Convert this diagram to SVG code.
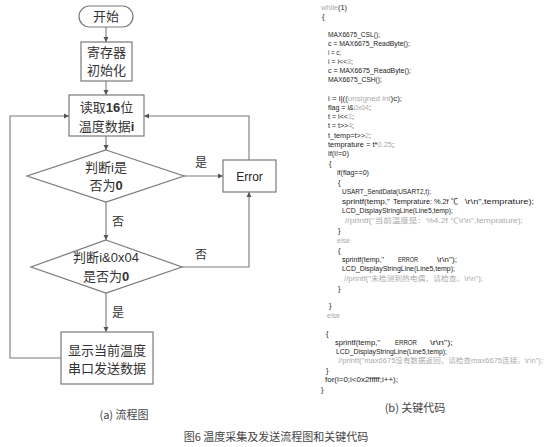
<svg xmlns="http://www.w3.org/2000/svg" width="554" height="447" viewBox="0 0 554 447">
<defs>
<style>
.bx{fill:#fff;stroke:#7a7a7a;stroke-width:1.2}
.ln{fill:none;stroke:#7a7a7a;stroke-width:1.1}
.t{font-family:"Noto Sans CJK SC",sans-serif;font-size:13px;fill:#333;text-anchor:middle}
.en{font-family:"Liberation Sans",sans-serif;font-size:12px;fill:#222;text-anchor:middle}
.lb{font-family:"Noto Sans CJK SC",sans-serif;font-size:12px;fill:#333;text-anchor:middle}
.c{font-family:"Liberation Sans","Noto Sans CJK SC",sans-serif;font-size:7.5px;fill:#222}
.cm{font-family:"Liberation Sans","Noto Sans CJK SC",sans-serif;font-size:6.5px;fill:#aaa}
.g{fill:#aaa}
.cap{font-family:"Noto Sans CJK SC",sans-serif;font-size:11px;fill:#444;text-anchor:middle}
</style>
<marker id="ar" markerWidth="6" markerHeight="6" refX="5" refY="3" orient="auto" markerUnits="userSpaceOnUse">
<path d="M0,0.5 L5,3 L0,5.5 Z" fill="#555"/>
</marker>
</defs>
<rect width="554" height="447" fill="#fff"/>

<g id="connectors">
<line class="ln" x1="106" y1="27" x2="106" y2="42" marker-end="url(#ar)"/>
<line class="ln" x1="106" y1="81" x2="106" y2="95" marker-end="url(#ar)"/>
<line class="ln" x1="106" y1="136" x2="106" y2="150" marker-end="url(#ar)"/>
<line class="ln" x1="184" y1="176" x2="223" y2="176" marker-end="url(#ar)"/>
<polyline class="ln" points="249,160 249,116 144,116" marker-end="url(#ar)"/>
<line class="ln" x1="106" y1="202" x2="106" y2="240" marker-end="url(#ar)"/>
<polyline class="ln" points="182,267 249,267 249,192" marker-end="url(#ar)"/>
<line class="ln" x1="106" y1="293" x2="106" y2="332" marker-end="url(#ar)"/>
<polyline class="ln" points="61,358 10,358 10,116 69,116" marker-end="url(#ar)"/>
<text class="lb" x="201" y="167">是</text>
<text class="lb" x="118" y="226">否</text>
<text class="lb" x="201" y="259">否</text>
<text class="lb" x="118" y="317">是</text>
</g>

<g id="start">
<rect class="bx" x="79" y="6" width="54" height="21" rx="10.5"/>
<text class="t" x="106" y="21">开始</text>
</g>
<g id="init">
<rect class="bx" x="81" y="42" width="51" height="39"/>
<text class="t" x="106.5" y="57">寄存器</text>
<text class="t" x="106.5" y="75">初始化</text>
</g>
<g id="read">
<rect class="bx" x="69" y="95" width="75" height="41"/>
<text class="t" x="106.5" y="112">读取<tspan font-family="Liberation Sans" font-weight="bold">16</tspan>位</text>
<text class="t" x="106.5" y="131">温度数据<tspan font-family="Liberation Sans" font-weight="bold">i</tspan></text>
</g>
<g id="judge1">
<polygon class="bx" points="106,150 184,176 106,202 27,176"/>
<text class="t" x="106" y="172">判断<tspan font-family="Liberation Sans">i</tspan>是</text>
<text class="t" x="106" y="190">否为<tspan font-family="Liberation Sans" font-weight="bold">0</tspan></text>
</g>
<g id="error">
<rect class="bx" x="223" y="160" width="53" height="32"/>
<text class="en" x="249.5" y="180.5">Error</text>
</g>
<g id="judge2">
<polygon class="bx" points="106,240 182,267 106,293 31,267"/>
<text class="t" x="106" y="262">判断<tspan font-family="Liberation Sans">i&amp;0x04</tspan></text>
<text class="t" x="106" y="281">是否为<tspan font-family="Liberation Sans" font-weight="bold">0</tspan></text>
</g>
<g id="display">
<rect class="bx" x="61" y="332" width="92" height="52"/>
<text class="t" x="107" y="355">显示当前温度</text>
<text class="t" x="107" y="373">串口发送数据</text>
</g>

<g id="code">
<text class="c" x="321" y="10" textLength="26" lengthAdjust="spacingAndGlyphs"><tspan class="g">while</tspan>(1)</text>
<text class="c" x="322" y="19">{</text>
<text class="c" x="328" y="37" textLength="52" lengthAdjust="spacingAndGlyphs">MAX6675_CSL();</text>
<text class="c" x="328" y="46" textLength="82" lengthAdjust="spacingAndGlyphs">c = MAX6675_ReadByte();</text>
<text class="c" x="328" y="55" textLength="13" lengthAdjust="spacingAndGlyphs">i = c;</text>
<text class="c" x="328" y="64" textLength="25" lengthAdjust="spacingAndGlyphs">i = i&lt;&lt;<tspan class="g">8</tspan>;</text>
<text class="c" x="328" y="73" textLength="83" lengthAdjust="spacingAndGlyphs">c = MAX6675_ReadByte();</text>
<text class="c" x="328" y="82" textLength="54" lengthAdjust="spacingAndGlyphs">MAX6675_CSH();</text>
<text class="c" x="328" y="101" textLength="74" lengthAdjust="spacingAndGlyphs">i = i|((<tspan class="g">unsigned int</tspan>)c);</text>
<text class="c" x="328" y="110" textLength="43" lengthAdjust="spacingAndGlyphs">flag = i&amp;<tspan class="g">0x04</tspan>;</text>
<text class="c" x="328" y="119" textLength="26" lengthAdjust="spacingAndGlyphs">t = i&lt;&lt;<tspan class="g">1</tspan>;</text>
<text class="c" x="328" y="128" textLength="26" lengthAdjust="spacingAndGlyphs">t = t&gt;&gt;<tspan class="g">4</tspan>;</text>
<text class="c" x="328" y="137.5" textLength="43" lengthAdjust="spacingAndGlyphs">t_temp=t&gt;&gt;<tspan class="g">2</tspan>;</text>
<text class="c" x="328" y="146.5" textLength="66" lengthAdjust="spacingAndGlyphs">temprature = t*<tspan class="g">0.25</tspan>;</text>
<text class="c" x="328" y="156" textLength="21" lengthAdjust="spacingAndGlyphs">if(i!=0)</text>
<text class="c" x="329" y="165.5">{</text>
<text class="c" x="337" y="175" textLength="32" lengthAdjust="spacingAndGlyphs">if(flag==0)</text>
<text class="c" x="338" y="184.5">{</text>
<text class="c" x="342" y="194" textLength="89" lengthAdjust="spacingAndGlyphs">USART_SendData(USART2,t);</text>
<text class="c" x="342" y="203.5" textLength="48" lengthAdjust="spacingAndGlyphs">sprintf(temp,"</text>
<text class="c" x="393" y="203.5" textLength="65" lengthAdjust="spacingAndGlyphs" fill="#444">Temprature: %.2f ℃</text>
<text class="c" x="465" y="203.5" textLength="69" lengthAdjust="spacingAndGlyphs">\r\n",temprature);</text>
<text class="c" x="342" y="213" textLength="111" lengthAdjust="spacingAndGlyphs">LCD_DisplayStringLine(Line5,temp);</text>
<text class="cm" x="345" y="222.5" textLength="178" lengthAdjust="spacingAndGlyphs">//printf("当前温度是：%4.2f ℃\r\n",temprature);</text>
<text class="c" x="338" y="233">}</text>
<text class="c g" x="337" y="243" textLength="13" lengthAdjust="spacingAndGlyphs">else</text>
<text class="c" x="338" y="252.5">{</text>
<text class="c" x="342" y="262" textLength="42" lengthAdjust="spacingAndGlyphs">sprintf(temp,"</text>
<text class="c" x="398" y="262" textLength="20" lengthAdjust="spacingAndGlyphs" fill="#444">ERROR</text>
<text class="c" x="437" y="262" textLength="20" lengthAdjust="spacingAndGlyphs">\r\n");</text>
<text class="c" x="342" y="271" textLength="113" lengthAdjust="spacingAndGlyphs">LCD_DisplayStringLine(Line5,temp);</text>
<text class="cm" x="344" y="280.5" textLength="139" lengthAdjust="spacingAndGlyphs">//printf("未检测到热电偶，请检查。\r\n");</text>
<text class="c" x="338" y="290.5">}</text>
<text class="c" x="329" y="308">}</text>
<text class="c g" x="327" y="318" textLength="13" lengthAdjust="spacingAndGlyphs">else</text>
<text class="c" x="326" y="336">{</text>
<text class="c" x="335" y="344.5" textLength="45" lengthAdjust="spacingAndGlyphs">sprintf(temp,"</text>
<text class="c" x="395" y="344.5" textLength="22" lengthAdjust="spacingAndGlyphs" fill="#444">ERROR</text>
<text class="c" x="430" y="344.5" textLength="23" lengthAdjust="spacingAndGlyphs">\r\n");</text>
<text class="c" x="336" y="353.5" textLength="111" lengthAdjust="spacingAndGlyphs">LCD_DisplayStringLine(Line5,temp);</text>
<text class="cm" x="338" y="363" textLength="205" lengthAdjust="spacingAndGlyphs">//printf("max6675没有数据返回，请检查max6675连接。\r\n");</text>
<text class="c" x="326" y="373">}</text>
<text class="c" x="325" y="382" textLength="73" lengthAdjust="spacingAndGlyphs">for(i=0;i&lt;0x2fffff;i++);</text>
<text class="c" x="321" y="391.5">}</text>
</g>

<text class="cap" x="124" y="419">(a) 流程图</text>
<text class="cap" x="415" y="412">(b) 关键代码</text>
<text class="cap" x="276" y="441">图6  温度采集及发送流程图和关键代码</text>
</svg>
